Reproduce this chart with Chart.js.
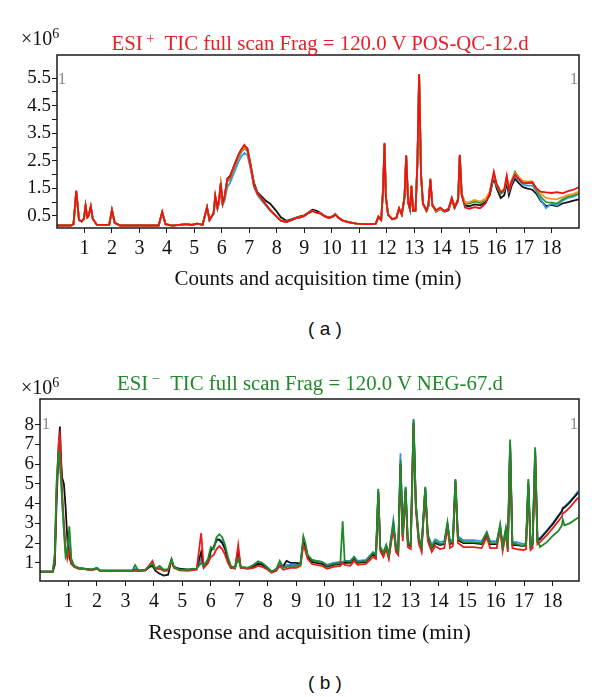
<!DOCTYPE html>
<html>
<head>
<meta charset="utf-8">
<script src="https://cdn.jsdelivr.net/npm/chart.js@4.4.1/dist/chart.umd.min.js"></script>
<style>
  html, body { margin: 0; padding: 0; background: #fff; }
  #page { position: relative; width: 600px; height: 697px; overflow: hidden; }
  .box { position: absolute; left: 0; width: 600px; }
  .lbl { position: absolute; white-space: nowrap; font-family: "Liberation Serif", serif; line-height: 1; }
  .ttl { font-size: 20px; transform: translate(-50%, -50%) scaleX(1.04); }
  .mult { font-size: 20px; color: #111; transform: translateY(-50%); }
  .mult sup, .ttl sup { font-size: 14px; vertical-align: 0; position: relative; top: -7px; }
  .one { font-size: 17px; color: #8c8c8c; transform: translate(-50%, -50%); }
  .panel { font-family: "Liberation Sans", Arial, sans-serif; font-size: 19px; color: #111; transform: translate(-50%, -50%); }
</style>
</head>
<body>
<div id="page">
  <div class="box" style="top:0;height:300px"><canvas id="chartA"></canvas></div>
  <div class="box" style="top:340px;height:320px"><canvas id="chartB"></canvas></div>

  <div class="lbl mult" style="left:21px;top:38px">×10<sup>6</sup></div>
  <div class="lbl ttl" style="left:320px;top:43px;color:#e4202a">ESI<sup>&nbsp;+</sup>&nbsp; TIC full scan Frag = 120.0 V POS-QC-12.d</div>
  <div class="lbl one" style="left:62px;top:78px">1</div>
  <div class="lbl one" style="left:574px;top:78px">1</div>
  <div class="lbl panel" style="left:325px;top:328px">(&nbsp;a&nbsp;)</div>

  <div class="lbl mult" style="left:21px;top:387px">×10<sup>6</sup></div>
  <div class="lbl ttl" style="left:310px;top:383px;color:#23882a">ESI<sup>&nbsp;−</sup>&nbsp; TIC full scan Frag = 120.0 V NEG-67.d</div>
  <div class="lbl one" style="left:46px;top:423px">1</div>
  <div class="lbl one" style="left:574px;top:423px">1</div>
  <div class="lbl panel" style="left:325px;top:682px">(&nbsp;b&nbsp;)</div>
</div>

<script>
// ---------- panel (a): ESI+ ----------
const xTickLabels = ['1','2','3','4','5','6','7','8','9','10','11','12','13','14','15','16','17','18'];
const yTickValuesA = [0.5, 1, 1.5, 2, 2.5, 3, 3.5, 4, 4.5, 5, 5.5];
const yTickLabelsA = ['0.5', '1.5', '2.5', '3.5', '4.5', '5.5'];
const yTickLabelsB = ['1','2','3','4','5','6','7','8'];

const timesA = [
  0, 0.5, 0.6, 0.65, 0.7, 0.75, 0.8, 0.9, 0.98, 1.04,
  1.1, 1.15, 1.23, 1.3, 1.45, 1.9, 2.0, 2.1, 2.3, 3.7,
  3.83, 3.95, 4.2, 4.7, 4.9, 5.1, 5.3, 5.46, 5.55, 5.7,
  5.76, 5.84, 5.9, 5.96, 6.03, 6.1, 6.2, 6.3, 6.4, 6.5,
  6.6, 6.7, 6.82, 6.93, 7.05, 7.17, 7.3, 7.45, 7.6, 7.75,
  7.95, 8.15, 8.35, 8.55, 8.7, 8.85, 9.0, 9.15, 9.3, 9.45,
  9.6, 9.75, 9.9, 10.05, 10.13, 10.25, 10.4, 10.6, 10.9, 11.2,
  11.5, 11.6, 11.7, 11.8, 11.87, 11.92, 11.97, 12.05, 12.2, 12.35,
  12.45, 12.55, 12.65, 12.71, 12.78, 12.85, 12.9, 12.96, 13.05, 13.12,
  13.18, 13.25, 13.32, 13.45, 13.52, 13.59, 13.66, 13.8, 13.95, 14.1,
  14.25, 14.37, 14.47, 14.6, 14.66, 14.73, 14.85, 15.0, 15.2, 15.4,
  15.6, 15.75, 15.9, 16.0, 16.15, 16.28, 16.37, 16.45, 16.55, 16.67,
  16.8, 16.95, 17.1, 17.3, 17.45, 17.6, 17.8, 18.0, 18.2, 18.4,
  18.6, 18.8, 19.0
];

const redA = [
  0.15,0.15,0.2,0.8,1.42,0.9,0.35,0.3,0.4,0.88,
  0.45,0.5,0.85,0.4,0.17,0.17,0.72,0.25,0.15,0.15,
  0.65,0.2,0.15,0.2,0.17,0.22,0.18,0.82,0.35,0.6,
  1.25,0.8,1.1,1.7,0.95,1.2,1.85,1.9,2.2,2.45,
  2.7,2.9,3.08,2.92,2.3,1.6,1.3,1.12,0.92,0.72,
  0.52,0.33,0.28,0.35,0.42,0.45,0.5,0.6,0.68,0.62,
  0.58,0.48,0.42,0.48,0.55,0.42,0.33,0.27,0.22,0.2,
  0.2,0.22,0.48,0.35,1.5,3.15,1.2,0.55,0.38,0.42,
  0.78,0.55,1.2,2.7,1.0,0.75,1.6,0.7,0.7,2.5,
  5.65,2.0,0.95,0.7,0.9,1.85,0.9,0.7,0.8,0.68,
  0.75,1.15,0.8,1.1,2.72,1.3,0.8,0.76,0.82,0.78,
  0.95,1.3,2.1,1.65,1.35,1.45,1.95,1.45,1.75,2.0,
  1.85,1.7,1.7,1.72,1.5,1.38,1.35,1.33,1.36,1.32,
  1.4,1.45,1.55
];

const blackA = [
  0.15,0.15,0.2,0.75,1.38,0.88,0.35,0.3,0.38,0.85,
  0.45,0.5,0.82,0.4,0.17,0.17,0.7,0.25,0.15,0.15,
  0.62,0.2,0.15,0.2,0.17,0.22,0.18,0.8,0.35,0.6,
  1.2,0.8,1.1,1.65,0.95,1.2,1.85,1.95,2.2,2.45,
  2.7,2.88,3.02,2.95,2.35,1.7,1.35,1.2,1.05,0.95,
  0.72,0.45,0.32,0.38,0.44,0.48,0.52,0.62,0.72,0.68,
  0.6,0.5,0.44,0.5,0.57,0.44,0.34,0.27,0.22,0.2,
  0.2,0.22,0.45,0.35,1.45,3.1,1.2,0.55,0.38,0.42,
  0.75,0.55,1.15,2.65,1.0,0.72,1.55,0.68,0.68,2.45,
  5.55,2.0,0.95,0.68,0.85,1.8,0.88,0.65,0.75,0.65,
  0.7,1.1,0.78,1.05,2.65,1.25,0.88,0.85,0.92,0.88,
  1.0,1.25,1.9,1.5,1.15,1.25,1.7,1.25,1.6,1.85,
  1.7,1.55,1.5,1.45,1.3,1.05,0.85,0.9,0.85,0.95,
  1.0,1.05,1.1
];

const blueA = [
  0.15,0.15,0.2,0.78,1.4,0.9,0.35,0.3,0.4,0.86,
  0.45,0.5,0.84,0.4,0.17,0.17,0.7,0.25,0.15,0.15,
  0.63,0.2,0.15,0.2,0.17,0.22,0.18,0.8,0.35,0.55,
  1.0,0.75,0.95,1.4,0.9,1.05,1.55,1.7,1.95,2.2,
  2.45,2.65,2.78,2.7,2.2,1.55,1.25,1.05,0.88,0.7,
  0.5,0.33,0.28,0.35,0.42,0.45,0.5,0.6,0.68,0.62,
  0.58,0.48,0.42,0.48,0.55,0.42,0.33,0.27,0.22,0.2,
  0.2,0.22,0.47,0.35,1.48,3.12,1.2,0.55,0.38,0.42,
  0.77,0.55,1.18,2.68,1.0,0.74,1.58,0.7,0.7,2.48,
  5.6,2.0,0.95,0.7,0.88,1.82,0.9,0.7,0.78,0.68,
  0.78,1.15,0.85,1.12,2.7,1.3,0.98,0.98,1.05,1.0,
  1.1,1.35,2.0,1.6,1.3,1.4,1.85,1.4,1.7,1.95,
  1.8,1.65,1.6,1.6,1.4,1.1,0.78,0.95,0.88,1.05,
  1.15,1.2,1.3
];

const greenA = [
  0.15,0.15,0.2,0.78,1.4,0.9,0.35,0.3,0.4,0.86,
  0.45,0.5,0.84,0.4,0.17,0.17,0.71,0.25,0.15,0.15,
  0.64,0.2,0.15,0.2,0.17,0.22,0.18,0.81,0.35,0.58,
  1.15,0.78,1.05,1.6,0.92,1.15,1.75,1.82,2.1,2.35,
  2.6,2.8,2.95,2.85,2.25,1.6,1.3,1.1,0.9,0.72,
  0.52,0.33,0.28,0.35,0.42,0.45,0.5,0.6,0.68,0.62,
  0.58,0.48,0.42,0.48,0.55,0.42,0.33,0.27,0.22,0.2,
  0.2,0.22,0.47,0.35,1.48,3.12,1.2,0.55,0.38,0.42,
  0.77,0.55,1.18,2.68,1.0,0.74,1.58,0.7,0.7,2.48,
  5.6,2.0,0.95,0.68,0.85,1.8,0.88,0.66,0.76,0.66,
  0.74,1.12,0.82,1.08,2.68,1.28,0.95,0.95,1.02,0.97,
  1.08,1.33,2.02,1.62,1.3,1.42,1.9,1.45,1.78,2.1,
  1.9,1.72,1.68,1.7,1.45,1.2,1.0,0.98,0.95,1.1,
  1.2,1.25,1.3
];

const orangeA = [
  0.15,0.15,0.2,0.79,1.41,0.9,0.35,0.3,0.4,0.87,
  0.45,0.5,0.84,0.4,0.17,0.17,0.71,0.25,0.15,0.15,
  0.64,0.2,0.15,0.2,0.17,0.22,0.18,0.81,0.35,0.59,
  1.2,0.8,1.08,1.65,0.93,1.18,1.8,1.88,2.15,2.4,
  2.65,2.85,3.0,2.9,2.28,1.62,1.3,1.12,0.92,0.74,
  0.53,0.33,0.28,0.35,0.42,0.45,0.5,0.6,0.68,0.62,
  0.58,0.48,0.42,0.48,0.55,0.42,0.33,0.27,0.22,0.2,
  0.2,0.22,0.47,0.35,1.49,3.13,1.2,0.55,0.38,0.42,
  0.77,0.55,1.19,2.69,1.0,0.74,1.59,0.7,0.7,2.49,
  5.62,2.0,0.95,0.69,0.87,1.82,0.89,0.68,0.77,0.67,
  0.76,1.14,0.84,1.1,2.7,1.3,0.98,1.0,1.08,1.02,
  1.12,1.38,2.05,1.68,1.38,1.48,1.92,1.5,1.8,2.05,
  1.92,1.78,1.75,1.75,1.5,1.3,1.15,1.12,1.1,1.18,
  1.25,1.3,1.38
];

// ---------- panel (b): ESI- ----------
const timesB = [
  0, 0.45, 0.52, 0.58, 0.62, 0.66, 0.7, 0.74, 0.78, 0.84,
  0.9, 0.96, 1.03, 1.1, 1.2, 1.35, 1.55, 1.8, 2.0, 2.1,
  2.5, 3.0, 3.25, 3.34, 3.45, 3.7, 3.85, 3.95, 4.05, 4.2,
  4.35, 4.5, 4.62, 4.7, 4.9, 5.2, 5.5, 5.66, 5.75, 5.9,
  6.0, 6.1, 6.2, 6.3, 6.4, 6.5, 6.6, 6.7, 6.85, 6.96,
  7.05, 7.3, 7.5, 7.66, 7.8, 8.0, 8.13, 8.3, 8.42, 8.55,
  8.66, 8.8, 9.0, 9.15, 9.25, 9.32, 9.4, 9.55, 9.7, 9.9,
  10.08, 10.3, 10.55, 10.63, 10.7, 10.9, 11.03, 11.15, 11.45, 11.7,
  11.8, 11.88, 11.95, 12.06, 12.16, 12.25, 12.41, 12.5, 12.58, 12.66,
  12.74, 12.84, 12.92, 13.02, 13.12, 13.2, 13.3, 13.4, 13.53, 13.62,
  13.76, 13.88, 14.05, 14.2, 14.31, 14.4, 14.5, 14.59, 14.68, 14.87,
  15.22, 15.51, 15.69, 15.81, 16.04, 16.16, 16.25, 16.36, 16.43, 16.51,
  16.59, 16.74, 16.98, 17.07, 17.15, 17.23, 17.3, 17.39, 17.47, 17.56,
  17.8, 18.03, 18.2, 18.33, 18.36, 18.42, 18.6, 18.75, 18.9
];

const greenB = [
  0.55,0.55,1.5,5.0,5.9,6.7,6.0,5.2,4.2,2.6,
  1.3,1.5,2.85,1.2,0.85,0.75,0.7,0.65,0.75,0.62,
  0.6,0.6,0.62,0.88,0.62,0.65,0.85,0.95,0.7,0.85,
  0.65,0.68,1.2,0.8,0.65,0.65,0.7,1.0,0.85,1.2,
  1.8,1.7,2.3,2.45,2.3,1.9,1.3,0.85,0.75,1.2,
  0.8,0.75,0.9,1.08,1.0,0.75,0.55,0.7,1.1,0.75,
  0.8,0.85,0.85,0.95,2.35,2.0,1.4,1.15,1.1,1.05,
  0.85,0.95,1.0,3.1,1.1,1.05,1.3,1.05,1.1,1.5,
  1.4,4.75,1.8,1.5,1.9,1.4,3.05,1.8,1.6,6.2,
  2.4,4.85,2.0,1.9,8.25,4.0,2.3,1.8,4.85,2.4,
  1.8,2.1,1.95,2.0,3.05,2.0,2.1,5.25,2.25,2.05,
  2.05,2.0,2.55,2.0,2.0,2.95,1.8,2.75,1.75,7.25,
  2.0,1.95,1.85,1.95,5.25,1.85,2.0,6.85,2.2,1.8,
  2.05,2.4,2.6,2.9,3.2,2.9,3.0,3.15,3.3
];

const blackB = [
  0.55,0.55,0.9,4.0,5.5,7.0,7.9,6.2,5.3,5.0,
  3.8,2.2,1.3,0.95,0.8,0.72,0.7,0.65,0.72,0.62,
  0.6,0.6,0.6,0.62,0.6,0.62,0.8,0.85,0.6,0.45,
  0.35,0.4,1.15,0.8,0.7,0.65,0.7,1.55,0.75,1.0,
  1.6,1.8,2.2,2.15,2.0,1.7,1.1,0.75,0.75,1.7,
  0.75,0.72,0.8,0.95,0.9,0.7,0.55,0.65,0.85,0.85,
  1.1,1.0,1.0,0.95,2.1,1.8,1.3,1.05,1.0,0.95,
  0.8,0.9,0.95,1.0,1.0,1.0,1.2,1.0,1.05,1.45,
  1.3,4.6,1.7,1.4,1.8,1.3,2.9,1.7,1.5,6.0,
  2.3,4.7,1.9,1.85,8.1,3.9,2.2,1.7,4.75,2.3,
  1.75,2.0,1.9,1.95,2.9,1.95,2.0,5.1,2.15,2.0,
  2.0,1.95,2.45,1.95,1.95,2.8,1.75,2.6,1.7,7.0,
  1.9,1.9,1.85,1.9,5.0,1.8,1.95,6.6,2.1,2.2,
  2.6,3.0,3.35,3.6,3.75,3.8,4.05,4.3,4.55
];

const redB = [
  0.55,0.55,1.2,4.5,6.0,7.2,7.5,6.0,4.5,3.0,
  1.8,1.2,1.6,1.0,0.8,0.7,0.68,0.62,0.7,0.6,
  0.58,0.58,0.6,0.62,0.58,0.62,0.9,1.1,0.68,0.7,
  0.6,0.62,1.1,0.75,0.62,0.6,0.65,2.5,0.75,1.0,
  1.3,1.4,1.7,1.85,1.7,1.4,1.0,0.75,0.7,1.9,
  0.75,0.7,0.75,0.85,0.8,0.65,0.5,0.6,0.85,0.65,
  0.7,0.75,0.75,0.85,1.9,1.6,1.2,0.95,0.9,0.85,
  0.7,0.8,0.85,1.0,0.9,0.85,1.1,0.9,0.95,1.3,
  1.2,4.5,1.6,1.3,1.7,1.2,2.8,1.55,1.4,5.9,
  2.1,4.6,1.8,1.7,8.0,3.7,2.0,1.55,4.7,2.1,
  1.55,1.85,1.7,1.75,2.8,1.75,1.85,5.1,2.0,1.8,
  1.8,1.75,2.3,1.75,1.75,2.7,1.6,2.5,1.55,6.9,
  1.75,1.7,1.65,1.7,4.9,1.65,1.75,6.5,1.95,2.05,
  2.4,2.8,3.1,3.35,3.5,3.55,3.8,4.05,4.3
];

const blueB = [
  0.55,0.55,1.3,4.6,5.8,6.5,6.2,5.3,4.0,2.7,
  1.5,1.4,2.3,1.1,0.85,0.75,0.7,0.65,0.75,0.62,
  0.6,0.6,0.62,0.7,0.62,0.65,0.82,0.9,0.68,0.75,
  0.6,0.62,1.15,0.8,0.68,0.65,0.7,1.2,0.8,1.1,
  1.7,1.75,2.1,2.2,2.1,1.75,1.2,0.8,0.75,1.3,
  0.8,0.75,0.85,1.0,0.95,0.72,0.55,0.68,0.95,0.8,
  0.9,0.9,0.9,1.0,2.2,1.9,1.35,1.15,1.1,1.05,
  0.9,1.0,1.05,1.05,1.1,1.1,1.3,1.1,1.15,1.55,
  1.45,4.6,1.8,1.55,1.9,1.45,3.15,1.85,1.65,6.55,
  2.45,4.8,2.05,2.0,8.3,4.0,2.35,1.85,4.8,2.45,
  1.9,2.2,2.05,2.1,3.0,2.1,2.2,5.2,2.35,2.15,
  2.15,2.1,2.55,2.1,2.1,2.9,1.9,2.7,1.85,7.1,
  2.05,2.05,1.95,2.0,5.1,1.95,2.05,6.7,2.25,2.25,
  2.65,3.05,3.4,3.65,3.8,3.85,4.1,4.35,4.65
];

// draws the black frame round the plot area
const frame = {
  id: 'frame',
  afterDraw(chart) {
    const a = chart.chartArea;
    const ctx = chart.ctx;
    ctx.save();
    ctx.strokeStyle = '#1a1a1a';
    ctx.lineWidth = 1.5;
    ctx.strokeRect(a.left, a.top, a.right - a.left, a.bottom - a.top);
    ctx.restore();
  }
};

function trace(label, values, color) {
  return {
    label: label,
    data: values,
    borderColor: color,
    borderWidth: 1.8,
    pointRadius: 0,
    tension: 0,
    fill: false
  };
}

function makeChart(id, cfg) {
  const serif = 'Liberation Serif';
  return new Chart(document.getElementById(id), {
    type: 'line',
    data: { labels: cfg.times, datasets: cfg.datasets },
    plugins: [frame],
    options: {
      responsive: true,
      maintainAspectRatio: false,
      animation: false,
      events: [],
      layout: { padding: cfg.padding },
      plugins: { legend: { display: false }, tooltip: { enabled: false } },
      scales: {
        x: {
          type: 'linear',
          min: cfg.xMin,
          max: cfg.xMax,
          border: { display: false },
          grid: { drawOnChartArea: false, drawTicks: true, tickLength: 5, color: '#1a1a1a', lineWidth: 1 },
          afterBuildTicks: (axis) => { axis.ticks = xTickLabels.map(s => ({ value: Number(s) })); },
          afterFit: (axis) => { axis.height = cfg.xHeight; },
          ticks: {
            color: '#111',
            padding: 4,
            maxRotation: 0,
            autoSkip: false,
            font: { family: serif, size: 20 },
            callback: (v) => String(v)
          },
          title: {
            display: true,
            text: cfg.xTitle,
            color: '#111',
            padding: 0,
            font: { family: serif, size: cfg.xTitleSize }
          }
        },
        y: {
          min: cfg.yMin,
          max: cfg.yMax,
          border: { display: false },
          grid: { drawOnChartArea: false, drawTicks: true, tickLength: 5, color: '#1a1a1a', lineWidth: 1 },
          afterBuildTicks: (axis) => { axis.ticks = cfg.yTicks.map(v => ({ value: v })); },
          afterFit: (axis) => { axis.width = cfg.yWidth; },
          ticks: {
            color: '#111',
            padding: 1,
            autoSkip: false,
            font: { family: serif, size: 19 },
            callback: (v) => cfg.yLabels.includes(String(v)) ? String(v) : ''
          }
        }
      }
    }
  });
}

makeChart('chartA', {
  times: timesA,
  datasets: [
    trace('red', redA, '#ee1111'),
    trace('orange', orangeA, '#f29a1e'),
    trace('green', greenA, '#2f9a3a'),
    trace('blue', blueA, '#3a9be3'),
    trace('black', blackA, '#111111')
  ],
  padding: { top: 55, right: 21, bottom: 8, left: 0 },
  xMin: 0, xMax: 19, xHeight: 64, xTitle: 'Counts and acquisition time (min)', xTitleSize: 21,
  yMin: 0.06, yMax: 6.34, yWidth: 57,
  yTicks: yTickValuesA, yLabels: yTickLabelsA
});

makeChart('chartB', {
  times: timesB,
  datasets: [
    trace('green', greenB, '#1f8a28'),
    trace('red', redB, '#ec1c1c'),
    trace('black', blackB, '#111111'),
    trace('blue', blueB, '#3a90e2')
  ],
  padding: { top: 59, right: 21, bottom: 14, left: 0 },
  xMin: 0, xMax: 18.93, xHeight: 65, xTitle: 'Response and acquisition time (min)', xTitleSize: 22,
  yMin: 0.08, yMax: 9.3, yWidth: 40,
  yTicks: yTickLabelsB.map(Number), yLabels: yTickLabelsB
});
</script>
</body>
</html>
